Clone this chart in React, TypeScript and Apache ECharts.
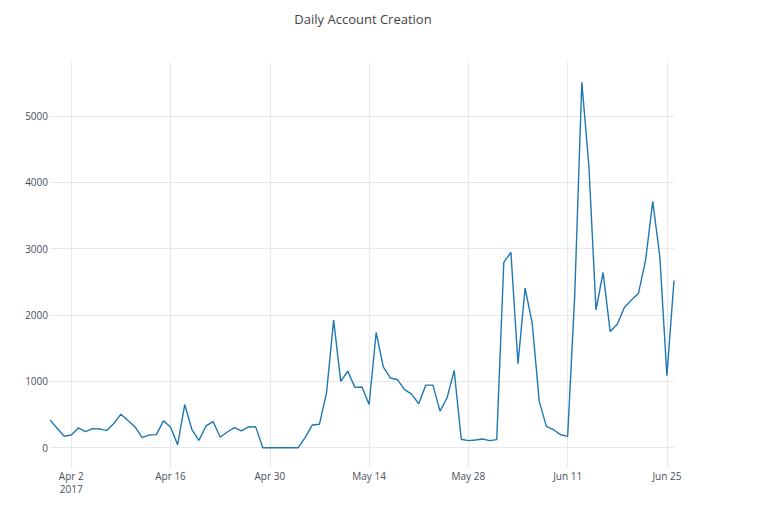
import React, { useEffect, useRef } from "react";
import * as echarts from "echarts";

const chartTitle = "Daily Account Creation";
const firstDay = [2017, 2, 30]; // Mar 30 2017 (year, monthIndex, day)
const lastDay = [2017, 5, 26]; // Jun 26 2017
const accounts = [
  419, 293,
  172, 192, 298, 242, 288, 283, 258, 364, 505, 409, 313, 152, 192, 197, 404, 313,
  45, 651, 278, 111, 328, 394, 157, 237, 303, 253, 313, 318, 0, 0,
  0, 0, 0, 0, 157, 343, 354, 828, 1924, 1000, 1152, 909, 914, 652, 1737, 1217,
  1051, 1025, 874, 808, 662, 944, 944, 551, 753, 1162, 128, 106, 116, 131, 106,
  121, 2794, 2945, 1266, 2407, 1879, 698, 322, 271, 196, 171, 2300, 5508, 4240,
  2077, 2641, 1750, 1861, 2113, 2228, 2329, 2832, 3712, 2882, 1087, 2520,
];
const xTickDays = [
  [2017, 3, 2],
  [2017, 3, 16],
  [2017, 3, 30],
  [2017, 4, 14],
  [2017, 4, 28],
  [2017, 5, 11],
  [2017, 5, 25],
];
const monthNames = ["Jan", "Feb", "Mar", "Apr", "May", "Jun", "Jul", "Aug", "Sep", "Oct", "Nov", "Dec"];
const yTicks = [0, 1000, 2000, 3000, 4000, 5000];
const yRange = [-306, 5814];

const ts = (d: number[]) => new Date(d[0], d[1], d[2]).getTime();

export default function App() {
  const ref = useRef<HTMLDivElement>(null);
  useEffect(() => {
    document.body.style.margin = "0";
    document.body.style.overflow = "hidden";
    if (!ref.current) return;
    const chart = echarts.init(ref.current, null, { renderer: "svg" });
    const start = ts(firstDay);
    const data = accounts.map((v, i) => {
      const d = new Date(firstDay[0], firstDay[1], firstDay[2] + i);
      return [d.getTime(), v];
    });
    const xTicks = xTickDays.map(ts);
    const font = "'Open Sans', 'Noto Sans', sans-serif";
    chart.setOption({
      animation: false,
      backgroundColor: "#ffffff",
      title: {
        text: chartTitle,
        left: 358,
        top: 7,
        textAlign: "center",
        textStyle: { fontFamily: font, fontSize: 13, fontWeight: "normal", color: "#444" },
      },
      grid: { left: 50, right: 94, top: 62, bottom: 37, containLabel: false },
      xAxis: {
        type: "value",
        min: start,
        max: ts(lastDay),
        axisLine: { show: false },
        axisTick: { show: false, customValues: xTicks },
        splitLine: { show: true, lineStyle: { color: "#e5e8ef", width: 1 } },
        axisLabel: {
          customValues: xTicks,
          fontFamily: font,
          fontSize: 10,
          color: "#4a4f5a",
          margin: 1,
          lineHeight: 13,
          hideOverlap: false,
          formatter: (value: number) => {
            const d = new Date(value);
            const s = monthNames[d.getMonth()] + " " + d.getDate();
            return value === xTicks[0] ? s + "\n" + d.getFullYear() : s;
          },
        },
      },
      yAxis: {
        type: "value",
        min: yRange[0],
        max: yRange[1],
        axisLine: { show: false },
        axisTick: { show: false, customValues: yTicks },
        splitLine: { show: true, lineStyle: { color: "#e5e8ef", width: 1 } },
        axisLabel: {
          customValues: yTicks,
          fontFamily: font,
          fontSize: 10,
          color: "#4a4f5a",
          margin: 2,
          formatter: (value: number) => String(value),
        },
      },
      series: [
        {
          type: "line",
          data,
          showSymbol: false,
          symbol: "none",
          lineStyle: { color: "#1f77b4", width: 1.4 },
          itemStyle: { color: "#1f77b4" },
        },
      ],
    });
    return () => chart.dispose();
  }, []);
  return <div ref={ref} style={{ width: 768, height: 505 }} />;
}
